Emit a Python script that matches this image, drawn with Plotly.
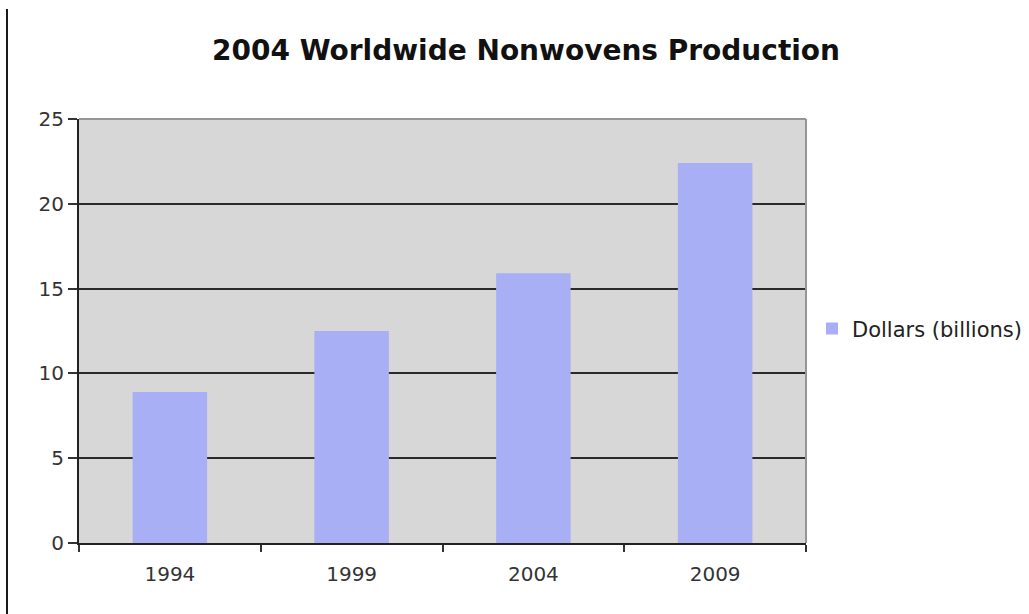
import plotly.graph_objects as go

years = ["1994", "1999", "2004", "2009"]
dollars_billions = [8.9, 12.5, 15.9, 22.4]
y_ticks = [0, 5, 10, 15, 20, 25]

fig = go.Figure()
fig.add_trace(go.Bar(
    x=years, y=dollars_billions, name="Dollars (billions)",
    marker=dict(color="#a9aff5", line=dict(width=0)),
    width=0.41,
))

fig.update_layout(
    width=1029, height=614,
    margin=dict(l=79, r=223, t=119, b=71, autoexpand=False),
    paper_bgcolor="white",
    plot_bgcolor="#d7d7d7",
    font=dict(family="DejaVu Sans, Verdana", color="#333333", size=20),
    title=dict(text="<b>2004 Worldwide Nonwovens Production</b>",
               x=526/1029, xanchor="center", y=1-50/614, yanchor="middle",
               font=dict(size=28, color="#111111")),
    showlegend=True,
    legend=dict(x=(812-79)/727, xanchor="left", y=0.505, yanchor="middle",
                font=dict(size=21, color="#222222"), bgcolor="rgba(0,0,0,0)",
                itemwidth=30),
)
fig.update_xaxes(
    type="category", tickson="boundaries", ticks="outside", ticklen=7,
    tickcolor="#333333", tickwidth=1.5, showline=True, linecolor="#222222",
    linewidth=2, showgrid=False, mirror=False, ticklabelstandoff=12,
)
fig.update_yaxes(
    range=[0, 25], tickvals=y_ticks, ticks="outside", ticklen=9,
    tickcolor="#333333", tickwidth=1.5, showline=True, linecolor="#222222",
    linewidth=2, showgrid=True, gridcolor="#2a2a2a", gridwidth=1.5,
    zeroline=False,
)
# top/right gray border of plot area
fig.add_shape(type="line", xref="paper", yref="paper", x0=0, x1=1, y0=1, y1=1,
              line=dict(color="#959595", width=2))
fig.add_shape(type="line", xref="paper", yref="paper", x0=1, x1=1, y0=0, y1=1,
              line=dict(color="#959595", width=2))
# left edge line of the image
fig.add_shape(type="line", xref="paper", yref="paper",
              x0=-72/727, x1=-72/727, y0=-71/424, y1=(543-9)/424,
              line=dict(color="#1a1a1a", width=2))

fig.write_html("out.html")
